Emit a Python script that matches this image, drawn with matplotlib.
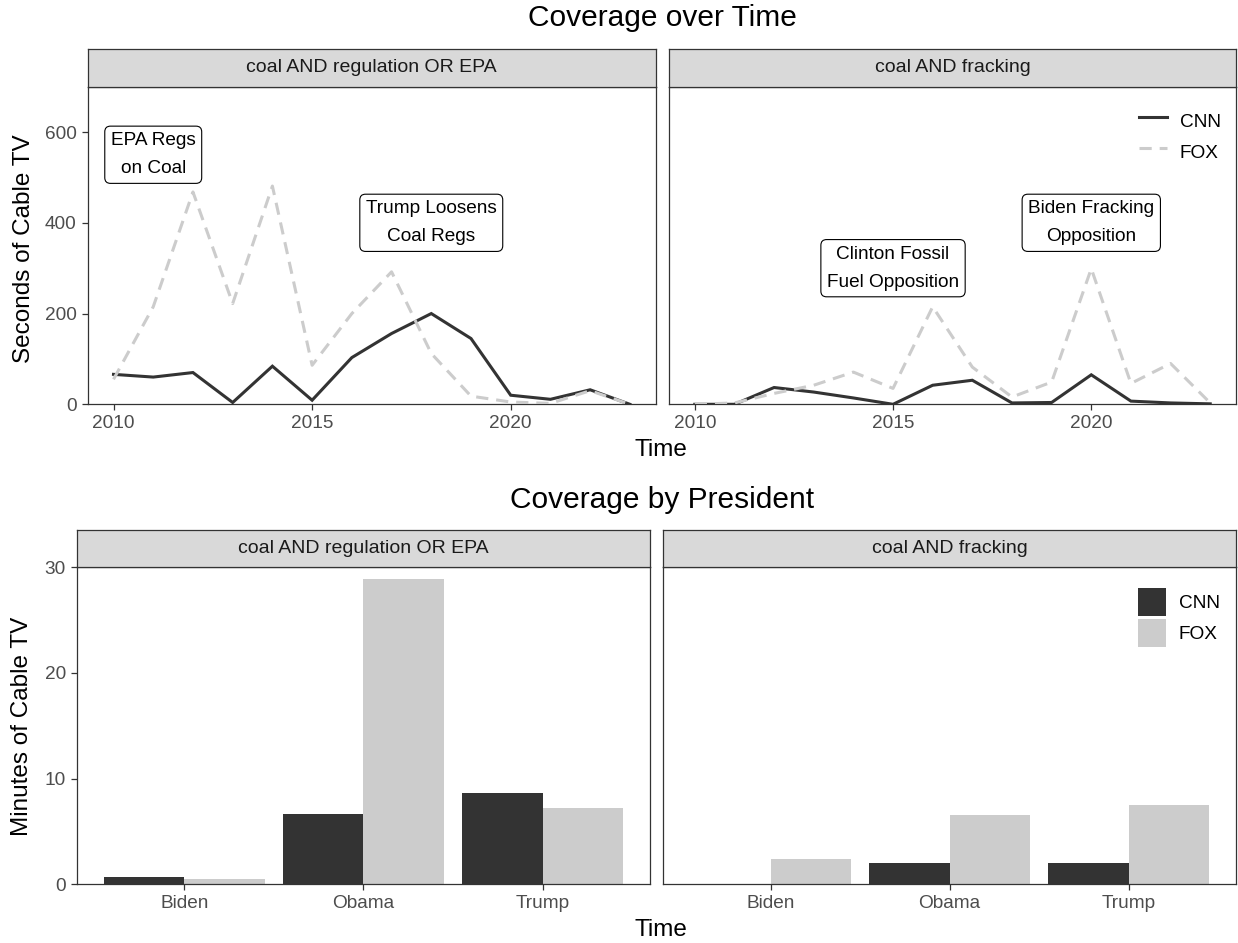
import matplotlib
matplotlib.use("Agg")
import matplotlib.pyplot as plt
from matplotlib.lines import Line2D
from matplotlib.patches import Patch
import numpy as np

plt.rcParams['font.family'] = ['Liberation Sans', 'DejaVu Sans']

# ---------------- data ----------------
years = [2010, 2011, 2012, 2013, 2014, 2015, 2016, 2017, 2018, 2019, 2020, 2021, 2022, 2023]
facets = ["coal AND regulation OR EPA", "coal AND fracking"]

reg_cnn = [66, 60, 70, 4, 84, 9, 103, 156, 200, 145, 20, 11, 32, 0]
reg_fox = [55, 215, 468, 222, 481, 86, 200, 292, 112, 18, 5, 2, 30, 0]
frk_cnn = [0, 0, 37, 27, 14, 0, 42, 53, 3, 4, 65, 7, 3, 1]
frk_fox = [0, 3, 24, 42, 71, 35, 215, 82, 16, 49, 299, 46, 90, 3]

presidents = ["Biden", "Obama", "Trump"]
reg_cnn_min = [0.66, 6.62, 8.61]
reg_fox_min = [0.47, 28.86, 7.22]
frk_cnn_min = [0.04, 1.99, 2.02]
frk_fox_min = [2.37, 6.59, 7.48]

reg_labels = [(2011, 550, "EPA Regs\non Coal"), (2018, 400, "Trump Loosens\nCoal Regs")]
frk_labels = [(2015, 300, "Clinton Fossil\nFuel Opposition"), (2020, 400, "Biden Fracking\nOpposition")]

year_ticks = [2010, 2015, 2020]
sec_ticks = [0, 200, 400, 600]
min_ticks = [0, 10, 20, 30]

# ---------------- style ----------------
W, H = 1238, 943
DPI = 100
C_CNN = "#333333"
C_FOX = "#CCCCCC"
BORDER = "#333333"
TICK_TXT = "#4D4D4D"
FS_TICK = 13.7
FS_STRIP = 14
FS_AXT = 17.5
FS_TITLE = 21.5
LW = 2.2

fig = plt.figure(figsize=(W / DPI, H / DPI), dpi=DPI)


def px_axes(x0, y0, x1, y1):
    return fig.add_axes([x0 / W, 1 - y1 / H, (x1 - x0) / W, (y1 - y0) / H])


def style_panel(ax, show_y):
    for s in ax.spines.values():
        s.set_color(BORDER)
        s.set_linewidth(0.9)
    ax.tick_params(axis='both', colors=BORDER, labelcolor=TICK_TXT, labelsize=FS_TICK,
                   length=4.3, width=0.9, pad=3.5)
    if not show_y:
        ax.tick_params(axis='y', left=False, labelleft=False)


def add_strip(x0, x1, y0, y1, text):
    s = px_axes(x0, y0, x1, y1)
    s.set_facecolor("#D9D9D9")
    s.set_xticks([])
    s.set_yticks([])
    for sp in s.spines.values():
        sp.set_color(BORDER)
        sp.set_linewidth(0.9)
    s.text(0.5, 0.5, text, ha='center', va='center', fontsize=FS_STRIP, color="#1A1A1A",
           transform=s.transAxes)


# ---------------- top: lines ----------------
top_panels = [(87.7, 655.7), (669, 1236)]
ty0, ty1 = 86.7, 404.3
line_data = [(reg_cnn, reg_fox, reg_labels), (frk_cnn, frk_fox, frk_labels)]
top_axes = []
for i, ((x0, x1), (cnn, fox, labs)) in enumerate(zip(top_panels, line_data)):
    ax = px_axes(x0, ty0, x1, ty1)
    ax.plot(years, cnn, color=C_CNN, lw=LW, solid_joinstyle='miter', zorder=2)
    ax.plot(years, fox, color=C_FOX, lw=LW, dashes=(4, 2.6), zorder=3)
    ax.set_xlim(2009.35, 2023.65)
    ax.set_ylim(0, 700)
    ax.set_xticks(year_ticks)
    ax.set_yticks(sec_ticks)
    style_panel(ax, i == 0)
    for (lx, ly, lt) in labs:
        ax.text(lx, ly, lt, ha='center', va='center', fontsize=FS_TICK, color='black',
                linespacing=1.85, zorder=5,
                bbox=dict(boxstyle='round,pad=0.32,rounding_size=0.3', fc='white', ec='black', lw=0.8))
    add_strip(x0, x1, 49.3, ty0, facets[i])
    top_axes.append(ax)

LEG_KW = dict(loc='upper left', bbox_transform=fig.transFigure, frameon=False, fontsize=FS_TICK,
              handlelength=1.45, handleheight=1.89, handletextpad=0.7, labelspacing=0.16,
              borderpad=0, borderaxespad=0)

leg_handles = [Line2D([], [], color=C_CNN, lw=LW),
               Line2D([], [], color=C_FOX, lw=LW, dashes=(4, 2.6))]
top_axes[1].legend(leg_handles, ["CNN", "FOX"], bbox_to_anchor=(1139 / W, 1 - 107 / H), **LEG_KW)

fig.text(662 / W, 1 - 18 / H, "Coverage over Time", ha='center', va='center', fontsize=FS_TITLE)
fig.text(24 / W, 1 - 249 / H, "Seconds of Cable TV", ha='center', va='center',
         rotation=90, fontsize=FS_AXT)
fig.text(661 / W, 1 - 450 / H, "Time", ha='center', va='center', fontsize=FS_AXT)

# ---------------- bottom: bars ----------------
bot_panels = [(76.8, 650), (663.3, 1236)]
by0, by1 = 567.3, 884.3
bar_data = [(reg_cnn_min, reg_fox_min), (frk_cnn_min, frk_fox_min)]
xpos = np.arange(1, len(presidents) + 1)
bw = 0.45
bot_axes = []
for i, ((x0, x1), (cnn, fox)) in enumerate(zip(bot_panels, bar_data)):
    ax = px_axes(x0, by0, x1, by1)
    ax.bar(xpos - bw / 2, cnn, width=bw, color=C_CNN, linewidth=0)
    ax.bar(xpos + bw / 2, fox, width=bw, color=C_FOX, linewidth=0)
    ax.set_xlim(0.4, 3.6)
    ax.set_ylim(0, 30)
    ax.set_xticks(xpos)
    ax.set_xticklabels(presidents)
    ax.set_yticks(min_ticks)
    style_panel(ax, i == 0)
    add_strip(x0, x1, 530, by0, facets[i])
    bot_axes.append(ax)

bar_handles = [Patch(facecolor=C_CNN, edgecolor='none'), Patch(facecolor=C_FOX, edgecolor='none')]
bot_axes[1].legend(bar_handles, ["CNN", "FOX"], bbox_to_anchor=(1138 / W, 1 - 587.7 / H), **LEG_KW)

fig.text(662 / W, 1 - 500 / H, "Coverage by President", ha='center', va='center', fontsize=FS_TITLE)
fig.text(22 / W, 1 - 726 / H, "Minutes of Cable TV", ha='center', va='center',
         rotation=90, fontsize=FS_AXT)
fig.text(661 / W, 1 - 930 / H, "Time", ha='center', va='center', fontsize=FS_AXT)

fig.savefig("out.png", dpi=DPI)
